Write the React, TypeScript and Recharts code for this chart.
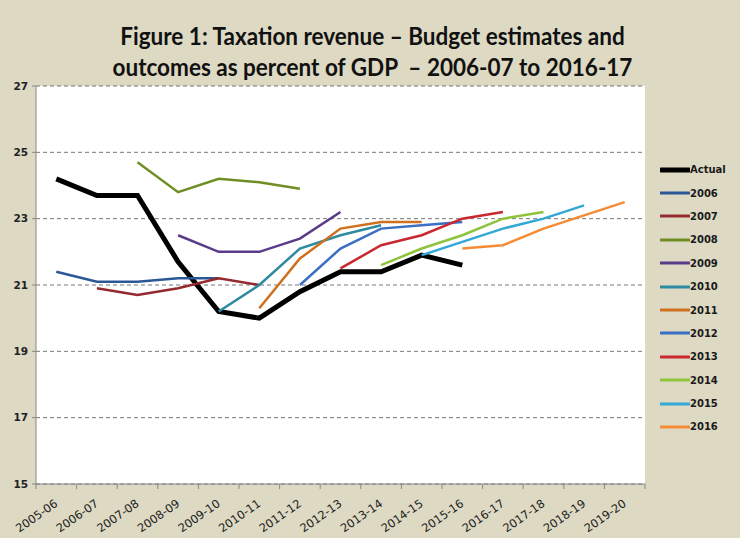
import React from 'react';
import { ComposedChart, Line, XAxis, YAxis, CartesianGrid, Legend } from 'recharts';

const categories = [
  '2005-06', '2006-07', '2007-08', '2008-09', '2009-10', '2010-11', '2011-12', '2012-13',
  '2013-14', '2014-15', '2015-16', '2016-17', '2017-18', '2018-19', '2019-20',
];
const yTicks = [15, 17, 19, 21, 23, 25, 27];

// one array per budget vintage, null where the series has no value
const actual = [24.2, 23.7, 23.7, 21.7, 20.2, 20.0, 20.8, 21.4, 21.4, 21.9, 21.6, null, null, null, null];
const b2006 = [21.4, 21.1, 21.1, 21.2, 21.2, null, null, null, null, null, null, null, null, null, null];
const b2007 = [null, 20.9, 20.7, 20.9, 21.2, 21.0, null, null, null, null, null, null, null, null, null];
const b2008 = [null, null, 24.7, 23.8, 24.2, 24.1, 23.9, null, null, null, null, null, null, null, null];
const b2009 = [null, null, null, 22.5, 22.0, 22.0, 22.4, 23.2, null, null, null, null, null, null, null];
const b2010 = [null, null, null, null, 20.2, 21.0, 22.1, 22.5, 22.8, null, null, null, null, null, null];
const b2011 = [null, null, null, null, null, 20.3, 21.8, 22.7, 22.9, 22.9, null, null, null, null, null];
const b2012 = [null, null, null, null, null, null, 21.0, 22.1, 22.7, 22.8, 22.9, null, null, null, null];
const b2013 = [null, null, null, null, null, null, null, 21.5, 22.2, 22.5, 23.0, 23.2, null, null, null];
const b2014 = [null, null, null, null, null, null, null, null, 21.6, 22.1, 22.5, 23.0, 23.2, null, null];
const b2015 = [null, null, null, null, null, null, null, null, null, 21.9, 22.3, 22.7, 23.0, 23.4, null];
const b2016 = [null, null, null, null, null, null, null, null, null, null, 22.1, 22.2, 22.7, 23.1, 23.5];

const series = [
  { key: 'Actual', values: actual, color: '#000000', width: 5 },
  { key: '2006', values: b2006, color: '#2b5797', width: 2.5 },
  { key: '2007', values: b2007, color: '#952a2e', width: 2.5 },
  { key: '2008', values: b2008, color: '#6f8f24', width: 2.5 },
  { key: '2009', values: b2009, color: '#5a3b8a', width: 2.5 },
  { key: '2010', values: b2010, color: '#2e8aa0', width: 2.5 },
  { key: '2011', values: b2011, color: '#d0701e', width: 2.5 },
  { key: '2012', values: b2012, color: '#3a6fc4', width: 2.5 },
  { key: '2013', values: b2013, color: '#c8282e', width: 2.5 },
  { key: '2014', values: b2014, color: '#8dc43c', width: 2.5 },
  { key: '2015', values: b2015, color: '#33a8d6', width: 2.5 },
  { key: '2016', values: b2016, color: '#f58b35', width: 2.5 },
];

const data = categories.map((year, i) => {
  const row: Record<string, string | number | null> = { year };
  series.forEach((s) => {
    row[s.key] = s.values[i];
  });
  return row;
});

const PLOT_LEFT = 36;
const PLOT_RIGHT = 645;
const HALF_BAND = (PLOT_RIGHT - PLOT_LEFT) / categories.length / 2;

function YearTick({ x, y, payload, index }: any) {
  const last = index === categories.length - 1;
  return (
    <g transform={`translate(${x},${y})`}>
      <line x1={-HALF_BAND} y1={0} x2={-HALF_BAND} y2={5} stroke="#888" />
      {last && <line x1={HALF_BAND} y1={0} x2={HALF_BAND} y2={5} stroke="#888" />}
      <text
        transform="translate(0,18) rotate(-35)"
        textAnchor="end"
        dy="0.35em"
        fontSize={11.5}
        fontFamily="DejaVu Sans, sans-serif"
        fill="#222"
      >
        {payload.value}
      </text>
    </g>
  );
}

function LegendBox() {
  return (
    <div style={{ fontFamily: 'DejaVu Sans, sans-serif', fontSize: 10, fontWeight: 'bold', color: '#1a1a1a' }}>
      {series.map((s) => (
        <div key={s.key} style={{ display: 'flex', alignItems: 'center', height: 23.4 }}>
          <svg width={30} height={8}>
            <line x1={1} y1={4} x2={29} y2={4} stroke={s.color} strokeWidth={s.width === 5 ? 5 : 3} strokeLinecap="round" />
          </svg>
          <span>{s.key}</span>
        </div>
      ))}
    </div>
  );
}

export default function App() {
  return (
    <div style={{ position: 'absolute', left: 0, top: 0, width: 740, height: 538, background: '#ddd9c3' }}>
      <div
        style={{
          position: 'absolute',
          left: 0,
          top: 20,
          width: 745,
          textAlign: 'center',
          fontFamily: 'Lato, sans-serif',
          fontWeight: 'bold',
          fontSize: 25,
          lineHeight: '31px',
          color: '#111',
          transform: 'scaleX(0.9)',
        }}
      >
        Figure 1: Taxation revenue – Budget estimates and
        <br />
        outcomes as percent of GDP&nbsp; – 2006-07 to 2016-17
      </div>
      <ComposedChart
        width={740}
        height={538}
        data={data}
        margin={{ top: 86, right: 740 - PLOT_RIGHT, bottom: 4, left: 0 }}
      >
        <CartesianGrid vertical={false} stroke="#777" strokeDasharray="4 3" fill="#ffffff" />
        <XAxis
          dataKey="year"
          height={50}
          interval={0}
          padding={{ left: HALF_BAND, right: HALF_BAND }}
          tickLine={false}
          tickSize={0}
          tickMargin={0}
          axisLine={{ stroke: '#888' }}
          tick={<YearTick />}
        />
        <YAxis
          width={PLOT_LEFT}
          domain={[15, 27]}
          ticks={yTicks}
          interval={0}
          tickSize={4}
          tickMargin={4}
          axisLine={{ stroke: '#888' }}
          tickLine={{ stroke: '#888' }}
          tick={{ fontSize: 10.5, fontWeight: 'bold', fill: '#222', fontFamily: 'DejaVu Sans, sans-serif' }}
        />
        <Legend
          layout="vertical"
          align="center"
          verticalAlign="middle"
          content={<LegendBox />}
          wrapperStyle={{ position: 'absolute', left: 660, top: 158, width: 80, height: 290 }}
        />
        {series.map((s) => (
          <Line
            key={s.key}
            dataKey={s.key}
            stroke={s.color}
            strokeWidth={s.width}
            dot={false}
            activeDot={false}
            isAnimationActive={false}
            strokeLinejoin="miter"
          />
        ))}
      </ComposedChart>
    </div>
  );
}
